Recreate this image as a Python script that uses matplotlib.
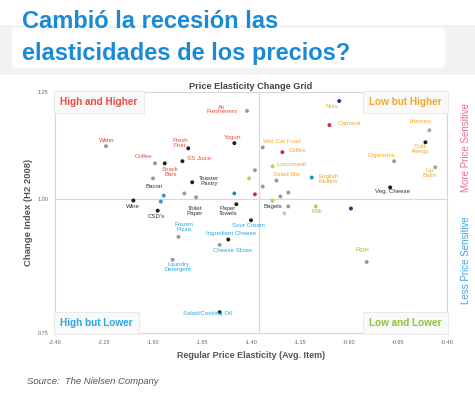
"""Price elasticity change grid (Nielsen), redrawn with matplotlib."""

from __future__ import annotations

import matplotlib

matplotlib.use("Agg")
import matplotlib.pyplot as plt
import numpy as np
from matplotlib.patches import FancyBboxPatch, Rectangle

TITLE_LINES = ["Cambió la recesión las", "elasticidades de los precios?"]
CHART_TITLE = "Price Elasticity Change Grid"

X_TICKS = [-2.40, -2.15, -1.90, -1.65, -1.40, -1.15, -0.90, -0.65, -0.40]
Y_TICKS = [0.75, 1.00, 1.25]
X_SPLIT = -1.36
Y_SPLIT = 1.00

# labelled items
item_labels = [
    "Water", "Air\nFresheners", "Fresh\nFruit", "Yogurt", "Coffee", "Snack\nBars",
    "SS Juice", "Toaster\nPastry", "Bacon", "Wine", "CSD's", "Toilet\nPaper",
    "Paper\nTowels", "Sour Cream", "Ingredient Cheese", "Cheese Slices",
    "Frozen\nPizza", "Laundry\nDetergent", "Salad/Cooking Oil", "Bagels", "Milk",
    "Eggs", "Nuts", "Oatmeal", "Vitamins", "Cold\nAllergy", "Cigarettes",
    "Lip\nBalm", "Veg. Cheese", "Wet Cat Food", "Coffee", "Lunchmeat",
    "Salad Mix", "English\nMuffins",
]
elasticity = [
    -2.14, -1.42, -1.72, -1.485, -1.89, -1.84,
    -1.75, -1.70, -1.90, -2.00, -1.876, -1.68,
    -1.475, -1.40, -1.516, -1.56,
    -1.77, -1.80, -1.56, -1.21, -1.07,
    -0.81, -0.95, -1.00, -0.49, -0.51, -0.67,
    -0.46, -0.69, -1.34, -1.24, -1.29,
    -1.27, -1.09,
]
change_index = [
    1.124, 1.206, 1.119, 1.131, 1.084, 1.084,
    1.089, 1.040, 1.049, 0.998, 0.979, 1.005,
    0.991, 0.961, 0.925, 0.915,
    0.930, 0.887, 0.789, 0.987, 0.987,
    0.883, 1.229, 1.173, 1.161, 1.133, 1.089,
    1.075, 1.028, 1.121, 1.110, 1.077,
    1.044, 1.051,
]
dot_group = [
    "gray", "gray", "dark", "dark", "gray", "dark",
    "dark", "dark", "gray", "dark", "dark", "gray",
    "dark", "dark", "dark", "gray",
    "gray", "gray", "dark", "gray", "lime",
    "gray", "navy", "red", "sage", "dark", "gray",
    "sage", "dark", "gray", "red", "lime",
    "gray", "teal",
]
label_group = [
    "high", "high", "high", "high", "high", "high",
    "high", "plain", "plain", "plain", "plain", "plain",
    "plain", "lower", "lower", "lower",
    "lower", "lower", "lower", "plain", "green",
    "green", "low", "low", "low", "low", "low",
    "low", "plain", "low", "low", "low",
    "low", "low",
]

# unlabelled items
extra_elasticity = [-1.38, -1.41, -1.34, -1.38, -1.485, -1.25, -1.21, -1.23,
                    -1.845, -1.86, -1.74, -0.89, -1.29]
extra_change = [1.068, 1.049, 1.030, 1.012, 1.014, 1.007, 1.016, 0.974,
                1.009, 0.996, 1.014, 0.983, 0.998]
extra_group = ["gray", "lime", "gray", "red", "teal", "gray", "gray", "lightgray",
               "blue", "blue", "gray", "navy", "lime"]

QUADRANTS = [
    ("High and Higher", "high", "left", "top"),
    ("Low but Higher", "low", "right", "top"),
    ("High but Lower", "lower", "left", "bottom"),
    ("Low and Lower", "green", "right", "bottom"),
]

DOT_COLORS = {
    "gray": "#9a9a9a", "lightgray": "#c8c8c8", "dark": "#1e1e1e",
    "red": "#d42a3c", "lime": "#b9cf55", "sage": "#9bb08a", "navy": "#2c2f80",
    "teal": "#1f8fbf", "blue": "#3b8fd8",
}
TEXT_COLORS = {
    "high": "#ec4b3e", "low": "#f4a72a", "lower": "#2aa7e2",
    "green": "#93c23f", "plain": "#333333",
}

# label offsets from their dots, in points
LABEL_OFFSETS = [
    (1, 4), (-18, 1), (-6, 4), (-1, 4), (-8, 5), (4, -6),
    (12, 2), (12, 1), (1, -6), (0, -4), (-1, -4), (-1, -10),
    (-6, -5), (-2, -4), (2, 4), (9, -4),
    (4, 7), (4, -5), (-9, -1), (-11, 0), (1, -4),
    (-3, 9), (-5, -4), (14, 1), (-6, 6), (-4, -5), (-9, 4),
    (-4, -4), (2, -3), (14, 4), (11, 1), (14, 1),
    (7, 4), (12, -1),
]


def y_forward(y):
    y = np.asarray(y, dtype=float)
    return np.where(y >= Y_SPLIT, (y - Y_SPLIT) * 107 / 0.25, (y - Y_SPLIT) * 133 / 0.25)


def y_inverse(v):
    v = np.asarray(v, dtype=float)
    return np.where(v >= 0, Y_SPLIT + v * 0.25 / 107, Y_SPLIT + v * 0.25 / 133)


def main() -> None:
    plt.rcParams.update(
        {
            "font.family": ["Liberation Sans", "DejaVu Sans"],
            "font.size": 5,
        }
    )
    W, H = 475, 393
    fig = plt.figure(figsize=(W / 100, H / 100), dpi=100, facecolor="white")

    # title banner
    fig.patches.append(Rectangle((0, 1 - 75 / H), 1, 50 / H, transform=fig.transFigure,
                                 facecolor="#f2f2f2", edgecolor="none", zorder=0))
    fig.patches.append(FancyBboxPatch((12 / W, 1 - 68 / H), 433 / W, 40 / H,
                                      boxstyle="round,pad=0,rounding_size=0.01",
                                      transform=fig.transFigure, facecolor="white",
                                      edgecolor="none", zorder=0))
    for line, baseline in zip(TITLE_LINES, [28, 60]):
        fig.text(22 / W, 1 - baseline / H, line, ha="left", va="baseline",
                 fontsize=17, fontweight="bold", color="#1a8ad6")

    ax = fig.add_axes([55 / W, 1 - 333 / H, 392 / W, 241 / H])
    ax.set_yscale("function", functions=(y_forward, y_inverse))
    ax.set_xlim(-2.40, -0.40)
    ax.set_ylim(0.75, 1.25)
    ax.set_xticks(X_TICKS)
    ax.set_xticklabels([f"{t:.2f}" for t in X_TICKS])
    ax.set_yticks(Y_TICKS)
    ax.set_yticklabels([f"{t:.2f}" for t in Y_TICKS])
    ax.minorticks_off()
    ax.tick_params(length=0, labelsize=4, colors="#666666", pad=5)
    for spine in ax.spines.values():
        spine.set_color("#d6d6d6")
        spine.set_linewidth(0.8)

    ax.axhline(Y_SPLIT, color="#d9d9d9", linewidth=0.8, zorder=1)
    ax.axvline(X_SPLIT, color="#d9d9d9", linewidth=0.8, zorder=1)

    ax.scatter(extra_elasticity, extra_change, s=8,
               c=[DOT_COLORS[g] for g in extra_group], linewidths=0, zorder=3)
    ax.scatter(elasticity, change_index, s=8,
               c=[DOT_COLORS[g] for g in dot_group], linewidths=0, zorder=3)
    for label, x, y, grp, off in zip(item_labels, elasticity, change_index,
                                     label_group, LABEL_OFFSETS):
        ax.annotate(label, (x, y), xytext=off, textcoords="offset points",
                    ha="center", va="center", fontsize=4.4, color=TEXT_COLORS[grp],
                    linespacing=0.95, zorder=4)

    for text, grp, side, level in QUADRANTS:
        xpos = 0.014 if side == "left" else 0.986
        ypos = 0.957 if level == "top" else 0.043
        ax.text(xpos, ypos, text, transform=ax.transAxes, ha=side, va="center",
                fontsize=7.2, fontweight="bold", color=TEXT_COLORS[grp], zorder=5,
                bbox=dict(boxstyle="square,pad=0.6", facecolor="#f9f9f9",
                          edgecolor="#e6e6e6", linewidth=0.6))

    ax.set_title(CHART_TITLE, fontsize=6.6, fontweight="bold", color="#444444", pad=2)
    ax.set_xlabel("Regular Price Elasticity (Avg. Item)", fontsize=6.4,
                  fontweight="bold", color="#555555", labelpad=4)
    ax.set_ylabel("Change Index (H2 2008)", fontsize=6.8, fontweight="bold",
                  color="#555555", labelpad=3)

    fig.text(466 / W, 1 - 148 / H, "More Price Sensitive", rotation=90, ha="center",
             va="center", fontsize=7, color="#ea6c8c")
    fig.text(466 / W, 1 - 260 / H, "Less Price Sensitive", rotation=90, ha="center",
             va="center", fontsize=7, color="#3aa7de")

    fig.text(27 / W, 1 - 382 / H, "Source:  The Nielsen Company", ha="left",
             va="center", fontsize=6.8, style="italic", color="#555555")

    fig.savefig("out.png", dpi=100, facecolor=fig.get_facecolor())
    plt.close(fig)


if __name__ == "__main__":
    main()
